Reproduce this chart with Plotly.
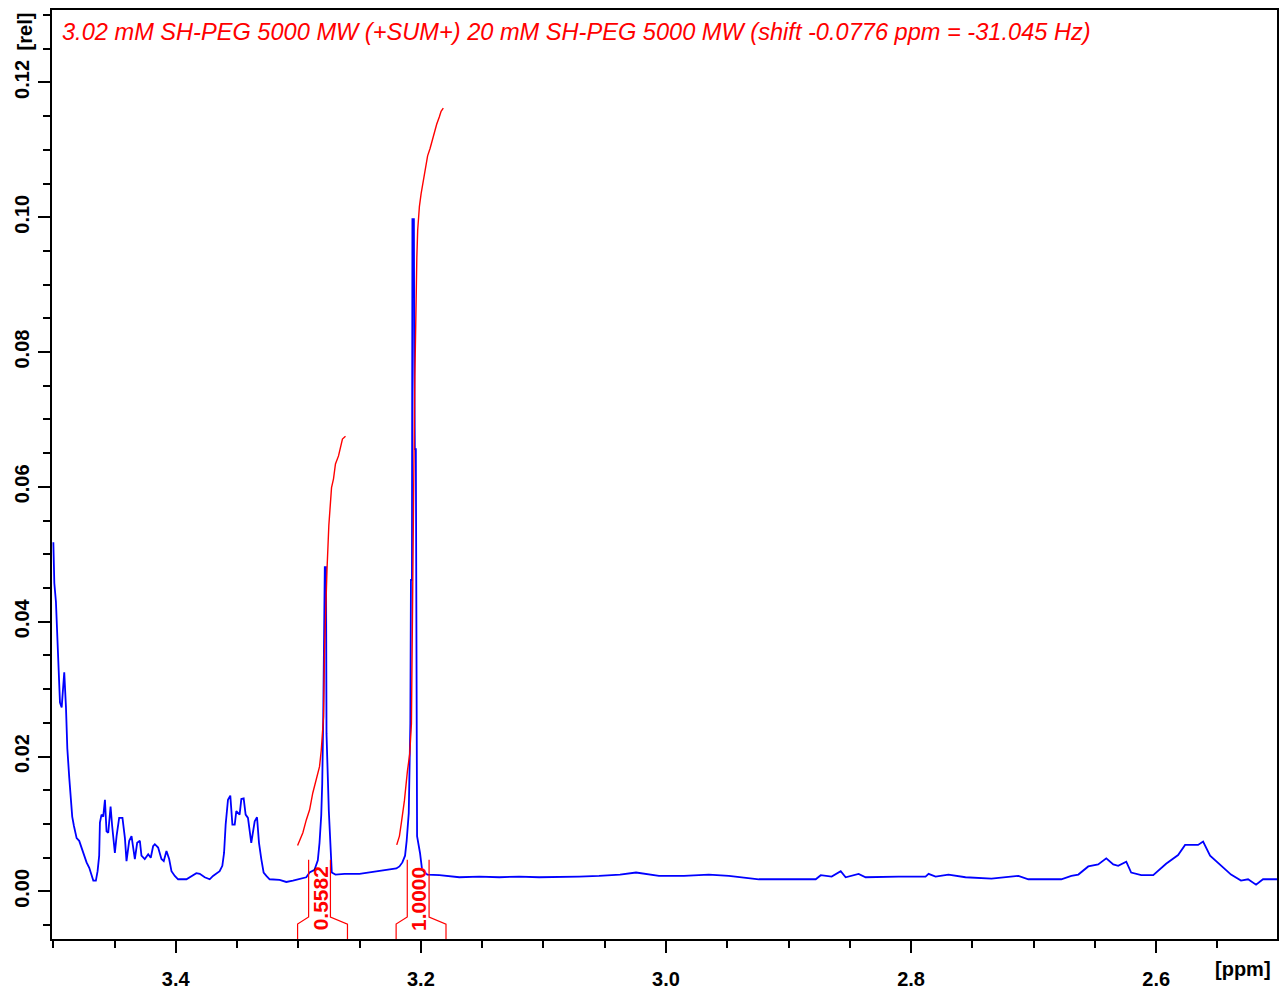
import plotly.graph_objects as go

# ---------------- data ----------------
ppm = [3.4999, 3.4991, 3.4978, 3.4967, 3.4953, 3.4945, 3.4931, 3.4923, 3.4910, 3.4896,
       3.4885, 3.4869, 3.4858, 3.4845, 3.4831, 3.4809, 3.4788, 3.4769, 3.4750, 3.4728,
       3.4706, 3.4687, 3.4673, 3.4652, 3.4638, 3.4625, 3.4619, 3.4606, 3.4592, 3.4578,
       3.4565, 3.4551, 3.4532, 3.4519, 3.4497, 3.4483, 3.4462, 3.4435, 3.4415, 3.4402,
       3.4380, 3.4361, 3.4348, 3.4334, 3.4315, 3.4293, 3.4280, 3.4253, 3.4225, 3.4204,
       3.4185, 3.4171, 3.4144, 3.4117, 3.4098, 3.4076, 3.4054, 3.4035, 3.4008, 3.3981,
       3.3913, 3.3872, 3.3832, 3.3804, 3.3764, 3.3723, 3.3696, 3.3642, 3.3620, 3.3606,
       3.3593, 3.3574, 3.3555, 3.3538, 3.3519, 3.3506, 3.3479, 3.3465, 3.3446, 3.3430,
       3.3411, 3.3384, 3.3370, 3.3356, 3.3337, 3.3321, 3.3302, 3.3283, 3.3261, 3.3234,
       3.3153, 3.3098, 3.3044, 3.2990,
       3.2935, 3.2908, 3.2868, 3.2841, 3.2827, 3.2813, 3.2805, 3.2797, 3.2792, 3.2784,
       3.2774, 3.2770, 3.2751, 3.2740, 3.2727, 3.2697, 3.2623, 3.2501, 3.2420, 3.2338,
       3.2257, 3.2200, 3.2175, 3.2151, 3.2129, 3.2116, 3.2099, 3.2090, 3.2086, 3.2081,
       3.2073, 3.2069, 3.2057, 3.2053, 3.2049, 3.2041, 3.2037, 3.2031, 3.2007, 3.1990,
       3.1947, 3.1849,
       3.1686, 3.1523, 3.1360, 3.1198, 3.1035, 3.0872, 3.0709, 3.0546, 3.0375, 3.0244,
       3.0057, 2.9853, 2.9650, 2.9487, 2.9242, 2.8998, 2.8778, 2.8737, 2.8648, 2.8574,
       2.8534, 2.8428, 2.8371, 2.8102, 2.7882, 2.7857, 2.7800, 2.7695, 2.7556, 2.7344,
       2.7124, 2.7043, 2.6774, 2.6692, 2.6635, 2.6554, 2.6473, 2.6407, 2.6350, 2.6310,
       2.6244, 2.6204, 2.6122, 2.6024, 2.5919, 2.5821, 2.5764, 2.5658, 2.5617, 2.5560,
       2.5479, 2.5389, 2.5308, 2.5250, 2.5185, 2.5128, 2.5014]

intensity = [0.0518, 0.0457, 0.0430, 0.0383, 0.0318, 0.0280, 0.0273, 0.0290, 0.0325, 0.0273,
             0.0212, 0.0168, 0.0133, 0.0111, 0.0097, 0.0079, 0.0075, 0.0065, 0.0055, 0.0043,
             0.0035, 0.0023, 0.0016, 0.0016, 0.0030, 0.0053, 0.0102, 0.0114, 0.0111, 0.0136,
             0.0089, 0.0087, 0.0126, 0.0097, 0.0057, 0.0082, 0.0109, 0.0109, 0.0079, 0.0045,
             0.0075, 0.0082, 0.0067, 0.0048, 0.0072, 0.0075, 0.0053, 0.0048, 0.0055, 0.0050,
             0.0067, 0.0070, 0.0065, 0.0048, 0.0045, 0.0060, 0.0048, 0.0030, 0.0023, 0.0018,
             0.0018, 0.0023, 0.0027, 0.0026, 0.0021, 0.0018, 0.0023, 0.0030, 0.0038, 0.0057,
             0.0099, 0.0136, 0.0142, 0.0099, 0.0099, 0.0119, 0.0114, 0.0137, 0.0138, 0.0114,
             0.0109, 0.0072, 0.0087, 0.0104, 0.0110, 0.0072, 0.0048, 0.0028, 0.0023, 0.0018,
             0.0017, 0.0014, 0.0016, 0.0018,
             0.0021, 0.0028, 0.0032, 0.0046, 0.0072, 0.0113, 0.0160, 0.0253, 0.0396, 0.0481,
             0.0481, 0.0234, 0.0119, 0.0068, 0.0028, 0.0025, 0.0026, 0.0026, 0.0028, 0.0031,
             0.0032, 0.0034, 0.0037, 0.0043, 0.0053, 0.0075, 0.0116, 0.0185, 0.0249, 0.0462,
             0.0462, 0.0997, 0.0997, 0.0763, 0.0656, 0.0656, 0.0440, 0.0082, 0.0057, 0.0032,
             0.0025, 0.0024,
             0.0021, 0.0022, 0.0021, 0.0022, 0.0021, 0.0021, 0.0022, 0.0023, 0.0025, 0.0028,
             0.0023, 0.0023, 0.0025, 0.0023, 0.0018, 0.0018, 0.0018, 0.0024, 0.0022, 0.0030,
             0.0021, 0.0026, 0.0021, 0.0022, 0.0022, 0.0026, 0.0022, 0.0025, 0.0021, 0.0019,
             0.0023, 0.0018, 0.0018, 0.0023, 0.0025, 0.0037, 0.0040, 0.0049, 0.0040, 0.0038,
             0.0044, 0.0028, 0.0024, 0.0024, 0.0041, 0.0054, 0.0069, 0.0069, 0.0074, 0.0053,
             0.0040, 0.0025, 0.0016, 0.0018, 0.0010, 0.0018, 0.0018]

# integral curves (drawn in red over the peaks)
integral1_ppm = [3.3006, 3.2963, 3.2935, 3.2908, 3.2882, 3.2854, 3.2827, 3.2813, 3.2800, 3.2794,
                 3.2786, 3.2778, 3.2766, 3.2751, 3.2740, 3.2729, 3.2713, 3.2697, 3.2672, 3.2656,
                 3.2640, 3.2615]
integral1_val = [0.0068, 0.0087, 0.0106, 0.0121, 0.0146, 0.0165, 0.0185, 0.0209, 0.0239, 0.0259,
                 0.0359, 0.0410, 0.0477, 0.0543, 0.0575, 0.0599, 0.0612, 0.0634, 0.0646, 0.0657,
                 0.0671, 0.0675]
integral2_ppm = [3.2197, 3.2175, 3.2159, 3.2134, 3.2110, 3.2091, 3.2077, 3.2069, 3.2065, 3.2057,
                 3.2049, 3.2041, 3.2033, 3.2026, 3.2012, 3.1998, 3.1985, 3.1971, 3.1958, 3.1945,
                 3.1925, 3.1909, 3.1890, 3.1871, 3.1849, 3.1835, 3.1817]
integral2_val = [0.0069, 0.0082, 0.0102, 0.0135, 0.0178, 0.0204, 0.0249, 0.0366, 0.0499, 0.0631,
                 0.0763, 0.0896, 0.0940, 0.0981, 0.1016, 0.1035, 0.1049, 0.1060, 0.1075, 0.1091,
                 0.1102, 0.1113, 0.1127, 0.1138, 0.1149, 0.1157, 0.1162]

integral_start = [3.3006, 3.2202]
integral_end = [3.2599, 3.1795]
integral_center = [3.2827, 3.2022]
integral_labels = ["0.5582", "1.0000"]

x_tick_vals = [3.4, 3.2, 3.0, 2.8, 2.6]
y_tick_vals = [0.00, 0.02, 0.04, 0.06, 0.08, 0.10, 0.12]

title_text = "3.02 mM SH-PEG 5000 MW (+SUM+) 20 mM SH-PEG 5000 MW (shift -0.0776 ppm = -31.045 Hz)"

# ---------------- figure ----------------
BLUE = "#0000FF"
RED = "#FF0000"
FONT = "Liberation Sans"
Y_MIN, Y_MAX = -0.00706, 0.13074

fig = go.Figure()

fig.add_trace(go.Scatter(x=ppm, y=intensity, mode="lines",
                         line=dict(color=BLUE, width=1.8), hoverinfo="skip"))
fig.add_trace(go.Scatter(x=integral1_ppm, y=integral1_val, mode="lines",
                         line=dict(color=RED, width=1.4), hoverinfo="skip"))
fig.add_trace(go.Scatter(x=integral2_ppm, y=integral2_val, mode="lines",
                         line=dict(color=RED, width=1.4), hoverinfo="skip"))

# integral brackets + values
half_inner = 0.0089
for x0, x1, xc, lab in zip(integral_start, integral_end, integral_center, integral_labels):
    for outer, inner in ((x0, xc + half_inner), (x1, xc - half_inner)):
        fig.add_trace(go.Scatter(x=[outer, outer, inner, inner],
                                 y=[Y_MIN, -0.00485, -0.0038, 0.0047],
                                 mode="lines", line=dict(color=RED, width=1.2),
                                 hoverinfo="skip", cliponaxis=False))
    fig.add_annotation(x=xc, y=-0.0011, text=lab, textangle=-90, showarrow=False,
                       xanchor="center", yanchor="middle", xshift=1,
                       font=dict(family=FONT, size=21, color=RED, weight="bold"))

fig.add_annotation(xref="paper", yref="paper", x=0.0065, y=0.9765, text=title_text,
                   showarrow=False, xanchor="left", yanchor="middle",
                   font=dict(family=FONT, size=23.6, color=RED, style="italic"))
fig.add_annotation(xref="paper", yref="paper", x=0.9723, y=-0.032, text="[ppm]",
                   showarrow=False, xanchor="center", yanchor="middle",
                   font=dict(family=FONT, size=20, color="black", weight="bold"))
fig.add_annotation(xref="paper", yref="paper", x=-0.022, y=0.977, text="[rel]",
                   textangle=-90, showarrow=False, xanchor="center", yanchor="middle",
                   font=dict(family=FONT, size=20, color="black", weight="bold"))

fig.update_layout(
    width=1281, height=992,
    margin=dict(l=52, r=2, t=10, b=45),
    paper_bgcolor="white", plot_bgcolor="white",
    showlegend=False,
    xaxis=dict(range=[3.501, 2.5014], tickvals=x_tick_vals, ticktext=[f"{v:.1f}" for v in x_tick_vals],
               ticks="outside", ticklen=12, tickwidth=2, tickcolor="black",
               showline=True, linewidth=2, linecolor="black", mirror=True,
               showgrid=False, zeroline=False, ticklabelstandoff=9,
               minor=dict(dtick=0.05, tick0=2.5, ticks="outside", ticklen=7, tickwidth=2,
                          tickcolor="black", showgrid=False),
               tickfont=dict(family=FONT, size=20, color="black", weight="bold")),
    yaxis=dict(range=[Y_MIN, Y_MAX], tickvals=y_tick_vals, ticktext=[f"{v:.2f}" for v in y_tick_vals],
               ticks="outside", ticklen=12, tickwidth=2, tickcolor="black",
               showline=True, linewidth=2, linecolor="black", mirror=True,
               showgrid=False, zeroline=False, tickangle=-90, ticklabelstandoff=1,
               minor=dict(dtick=0.005, tick0=0, ticks="outside", ticklen=7, tickwidth=2,
                          tickcolor="black", showgrid=False),
               tickfont=dict(family=FONT, size=20, color="black", weight="bold")),
)

fig.write_html("out.html")
